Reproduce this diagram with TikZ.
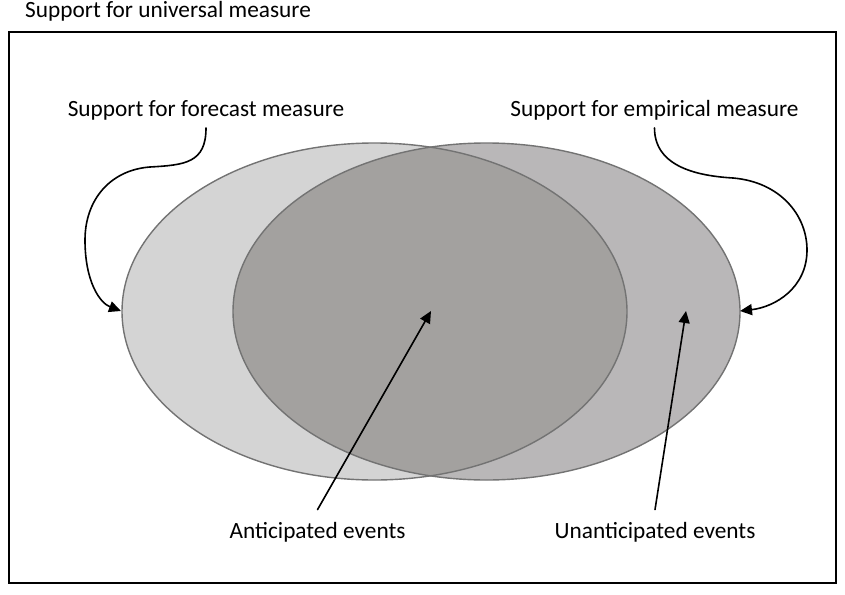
\documentclass[tikz,border=0pt]{standalone}
\usepackage{fontspec}
\setmainfont{Carlito}
\usepackage{xcolor}
\usepackage{tikz}
\usetikzlibrary{arrows.meta}
\definecolor{fcstfill}{HTML}{D4D4D4}
\definecolor{empfill}{HTML}{B9B7B8}
\definecolor{bothfill}{HTML}{A3A19F}
\definecolor{edge}{HTML}{737373}
\tikzset{
  frame/.style={draw=black, line width=1.2pt},
  setedge/.style={draw=edge, line width=1.4pt},
  lab/.style={font=\fontsize{23.3}{28}\selectfont, inner sep=0pt},
  arr/.style={draw=black, line width=1.6pt, line cap=round,
    -{Triangle[length=12pt,width=11pt]}},
}

\begin{document}
\begin{tikzpicture}[x=1pt, y=-1pt]
  \useasboundingbox (0,0) rectangle (845,594);
  \coordinate (cL) at (374.5,311.5);
  \coordinate (cR) at (486.5,311.5);

  % sets
  \fill[fcstfill] (cL) ellipse [x radius=252.5pt, y radius=168.5pt];
  \fill[empfill] (cR) ellipse [x radius=253.5pt, y radius=168.5pt];
  \begin{scope}
    \clip (cL) ellipse [x radius=252.5pt, y radius=168.5pt];
    \fill[bothfill] (cR) ellipse [x radius=253.5pt, y radius=168.5pt];
  \end{scope}
  \draw[setedge] (cL) ellipse [x radius=252.5pt, y radius=168.5pt];
  \draw[setedge] (cR) ellipse [x radius=253.5pt, y radius=168.5pt];

  \draw[frame] (9,32) rectangle (836,583);

  % labels
  \node[lab, anchor=base west] (universal) at (25,18) {Support for universal measure};
  \node[lab, anchor=base] (forecast) at (206,116) {Support for forecast measure};
  \node[lab, anchor=base] (empirical) at (654.5,116) {Support for empirical measure};
  \node[lab, anchor=base] (anticipated) at (317.5,538) {Anticipated events};
  \node[lab, anchor=base] (unanticipated) at (655,538) {Unanticipated events};

  \coordinate (forecastTip) at (121,311);
  \coordinate (empiricalTip) at (740,311);
  \coordinate (anticipatedTip) at (431,311);
  \coordinate (unanticipatedTip) at (686,311);

  % arrows
  \draw[arr] ([yshift=-8pt]forecast.south) .. controls +(0,35) and (185,165) .. (150,167)
    .. controls (110,170) and (85,200) .. (85,240)
    .. controls (85,282) and (100,303) .. (forecastTip);
  \draw[arr] ([yshift=-8pt]empirical.south) .. controls +(0,40) and (700,176) .. (733,178)
    .. controls (780,182) and (807,215) .. (807,250)
    .. controls (807,288) and (775,307) .. (empiricalTip);
  \draw[arr] ([yshift=12pt]anticipated.north) -- (anticipatedTip);
  \draw[arr] ([yshift=12pt]unanticipated.north) -- (unanticipatedTip);
\end{tikzpicture}
\end{document}
